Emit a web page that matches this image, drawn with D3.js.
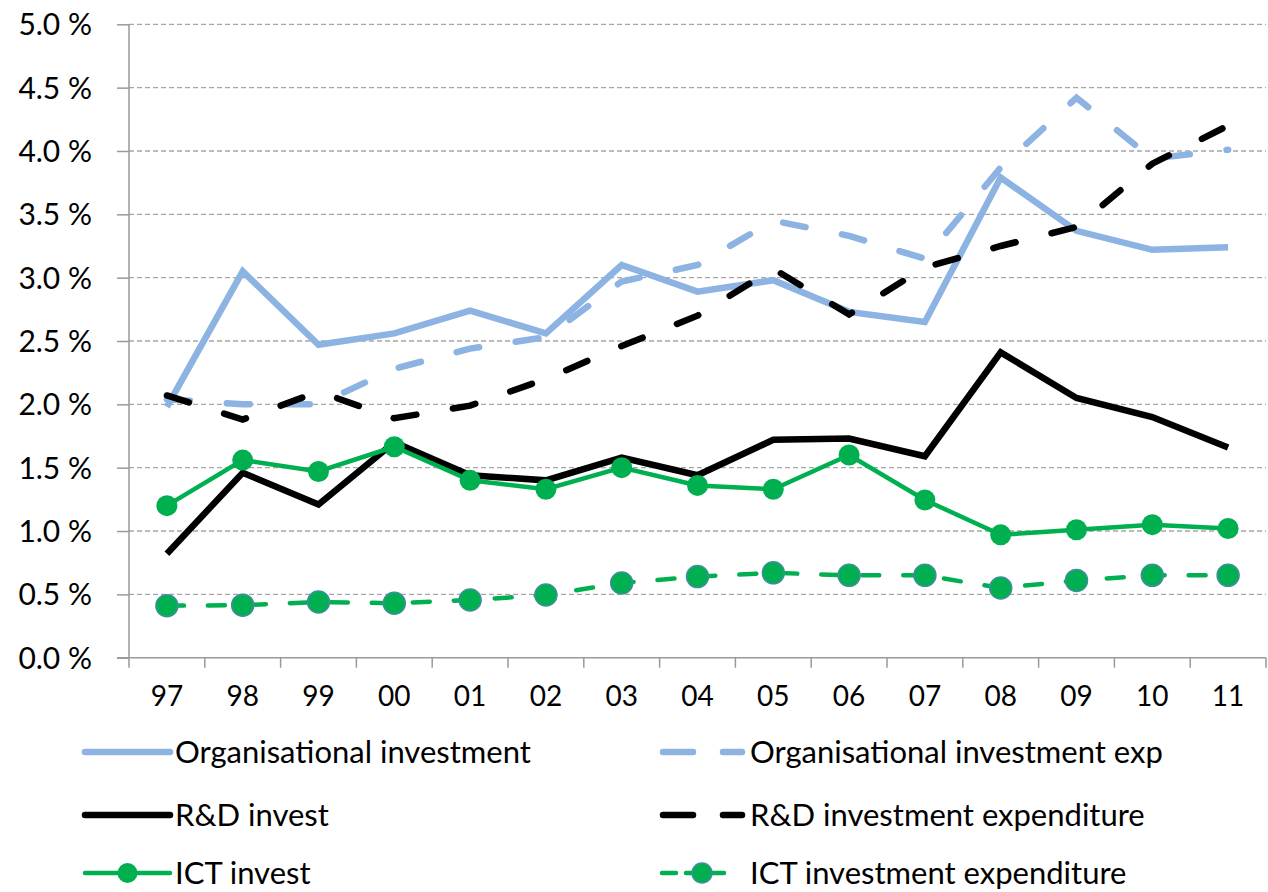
<!DOCTYPE html>
<html>
<head>
<meta charset="utf-8">
<script src="https://cdn.jsdelivr.net/npm/d3@7"></script>
<style>
	body { margin: 0; background: #fff; }
	svg text { font-family: Lato, "Open Sans", sans-serif; fill: #000; }
</style>
</head>
<body>
<div id="chart"></div>
<script>

var years = ["97","98","99","00","01","02","03","04","05","06","07","08","09","10","11"];

var orgInvest    = [1.98, 3.05, 2.47, 2.56, 2.74, 2.56, 3.10, 2.89, 2.98, 2.73, 2.65, 3.79, 3.37, 3.22, 3.24];
var orgInvestExp = [2.04, 2.00, 2.00, 2.28, 2.44, 2.53, 2.97, 3.10, 3.45, 3.33, 3.15, 3.87, 4.42, 3.94, 4.01];
var rdInvest     = [0.82, 1.46, 1.21, 1.70, 1.44, 1.40, 1.58, 1.44, 1.72, 1.73, 1.59, 2.41, 2.05, 1.90, 1.66];
var rdExp        = [2.07, 1.88, 2.10, 1.89, 1.99, 2.20, 2.46, 2.70, 3.07, 2.71, 3.08, 3.25, 3.40, 3.90, 4.20];
var ictInvest    = [1.20, 1.56, 1.47, 1.665, 1.40, 1.33, 1.50, 1.36, 1.33, 1.60, 1.245, 0.97, 1.01, 1.05, 1.02];
var ictExp       = [0.41, 0.415, 0.44, 0.43, 0.455, 0.495, 0.59, 0.64, 0.67, 0.65, 0.65, 0.55, 0.61, 0.65, 0.65];

var yTicks = [0, 0.5, 1, 1.5, 2, 2.5, 3, 3.5, 4, 4.5, 5];

var seriesNames = [
	"Organisational investment", "Organisational investment exp",
	"R&D invest", "R&D investment expenditure",
	"ICT invest", "ICT investment expenditure"
];

var w = 1268, h = 892,
	plotLeft = 129, plotRight = 1266, plotTop = 24.3, plotBottom = 657.7,
	lightBlue = "#8db3e2", green = "#00b050";

var series = [
	{ name: seriesNames[0], values: orgInvest,    color: lightBlue, width: 6.5, dash: null },
	{ name: seriesNames[1], values: orgInvestExp, color: lightBlue, width: 6.5, dash: "23 37" },
	{ name: seriesNames[2], values: rdInvest,     color: "#000",    width: 6.5, dash: null },
	{ name: seriesNames[3], values: rdExp,        color: "#000",    width: 6.5, dash: "23 37" },
	{ name: seriesNames[4], values: ictInvest,    color: green,     width: 4.5, dash: null,    marker: true },
	{ name: seriesNames[5], values: ictExp,       color: green,     width: 4.5, dash: "17 24", marker: true, outline: "#3f8e9c" }
];

var svg = d3.select("#chart").append("svg")
	.attr("width", w)
	.attr("height", h);

var x = d3.scaleBand().domain(years).range([plotLeft, plotRight]).padding(0);
var y = d3.scaleLinear().domain([0, 5]).range([plotBottom, plotTop]);
var cx = function(d) { return x(d) + x.bandwidth() / 2; };

// gridlines
svg.append("g")
	.selectAll("line")
	.data(yTicks.filter(function(t) { return t > 0; }))
	.join("line")
	.attr("x1", plotLeft).attr("x2", plotRight)
	.attr("y1", function(d) { return y(d); })
	.attr("y2", function(d) { return y(d); })
	.style("stroke", "#a6a6a6")
	.style("stroke-width", 1.3)
	.style("stroke-dasharray", "5 3");

// y axis
var yAxis = svg.append("g")
	.attr("transform", "translate(" + plotLeft + ",0)")
	.call(d3.axisLeft(y).tickValues(yTicks).tickSize(12).tickPadding(25)
		.tickFormat(function(d) { return d3.format(".1f")(d) + " %"; }));
yAxis.select(".domain").attr("d", "M0," + plotTop + "V" + (plotBottom + 10));
yAxis.selectAll("line, .domain").style("stroke", "#999").style("stroke-width", 1.5);
yAxis.selectAll("text").style("font-size", "30px").attr("dy", "0.35em");

// x axis
var xAxis = svg.append("g")
	.attr("transform", "translate(0," + plotBottom + ")")
	.call(d3.axisBottom(x).tickSize(0).tickPadding(28));
xAxis.select(".domain").attr("d", "M" + (plotLeft - 12) + ",0H" + plotRight)
	.style("stroke", "#999").style("stroke-width", 1.5);
xAxis.selectAll("text").style("font-size", "28px");

xAxis.selectAll(".band-tick")
	.data(years.slice(1).concat(["end"]))
	.join("line")
	.attr("class", "band-tick")
	.attr("x1", function(d) { return d === "end" ? plotRight : x(d); })
	.attr("x2", function(d) { return d === "end" ? plotRight : x(d); })
	.attr("y1", 0).attr("y2", 10)
	.style("stroke", "#999").style("stroke-width", 1.5);

// lines
var line = d3.line()
	.x(function(d, i) { return cx(years[i]); })
	.y(function(d) { return y(d); });

series.forEach(function(s) {
	var g = svg.append("g");
	g.append("path")
		.attr("d", line(s.values))
		.style("fill", "none")
		.style("stroke", s.color)
		.style("stroke-width", s.width)
		.style("stroke-linejoin", "miter")
		.style("stroke-linecap", s.dash ? "round" : "butt")
		.style("stroke-dasharray", s.dash);
	if (s.marker) {
		g.selectAll("circle")
			.data(s.values)
			.join("circle")
			.attr("cx", function(d, i) { return cx(years[i]); })
			.attr("cy", function(d) { return y(d); })
			.attr("r", s.outline ? 11 : 10.5)
			.style("fill", s.color)
			.style("stroke", s.outline || "none")
			.style("stroke-width", s.outline ? 1.5 : 0);
	}
});

// legend
var legendCols = [85, 660], legendRows = [752, 815, 873];
var legend = svg.append("g");

series.forEach(function(s, i) {
	var lx = legendCols[i % 2], ly = legendRows[Math.floor(i / 2)];
	var item = legend.append("g").attr("transform", "translate(" + lx + "," + ly + ")");
	var dash = null, x0 = 0, x1 = 85;
	if (s.dash && !s.marker) { dash = "30 30"; x0 = 3; x1 = 82; }
	if (s.dash && s.marker) { dash = "14 10"; x0 = 2; x1 = 64; }
	item.append("line")
		.attr("x1", x0).attr("x2", x1)
		.attr("y1", 0).attr("y2", 0)
		.style("stroke", s.color)
		.style("stroke-width", s.width)
		.style("stroke-linecap", "round")
		.style("stroke-dasharray", dash);
	if (s.marker) {
		item.append("circle")
			.attr("cx", s.dash ? 42 : 42.5)
			.attr("cy", 0)
			.attr("r", 10)
			.style("fill", s.color)
			.style("stroke", s.outline || "none")
			.style("stroke-width", s.outline ? 1.5 : 0);
	}
	item.append("text")
		.attr("x", 90)
		.attr("y", 0)
		.attr("dy", "0.35em")
		.style("font-size", "31px")
		.text(s.name);
});

</script>
</body>
</html>
